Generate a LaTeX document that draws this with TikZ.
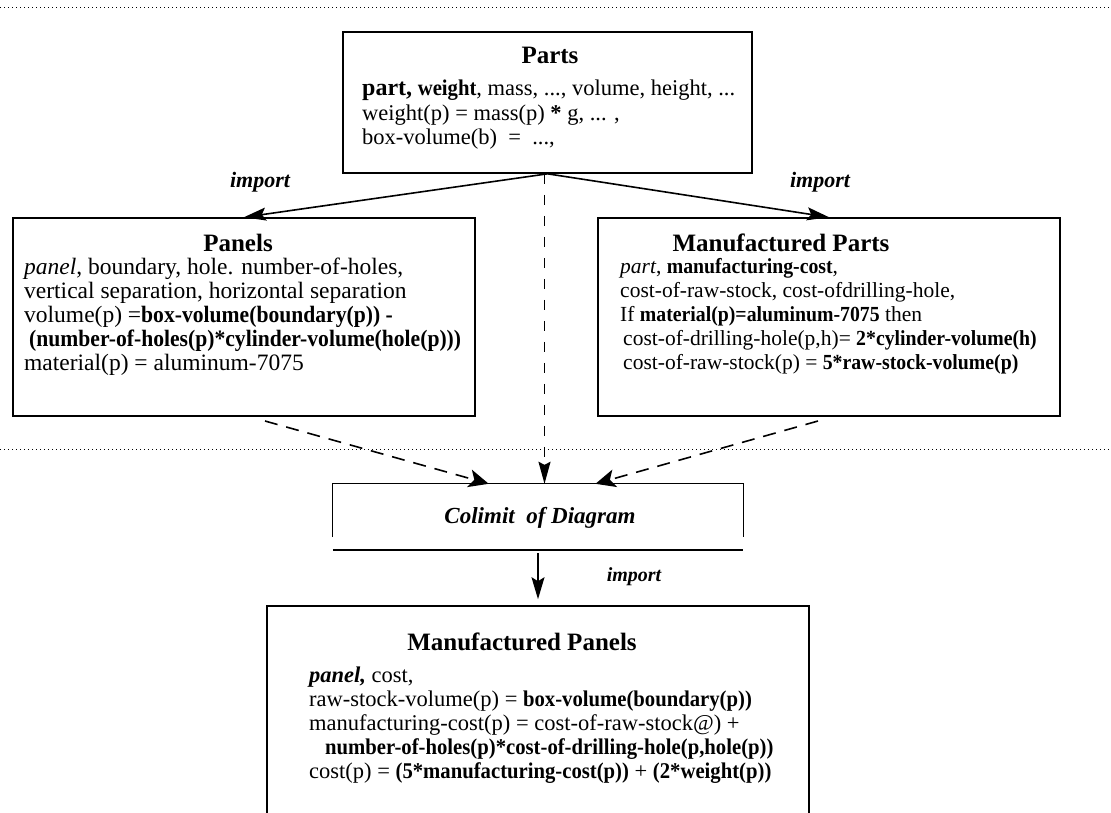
\documentclass[tikz,border=0pt]{standalone}
\usepackage{fontspec}
\setmainfont{Liberation Serif}
\usepackage{graphicx}
\usetikzlibrary{arrows.meta,calc}
\newcommand{\cb}[1]{\scalebox{0.92}[1]{\textbf{#1}}}
\begin{document}
\begin{tikzpicture}[x=1pt,y=-1pt,
  boxline/.style={draw, line width=1.6pt, inner sep=0pt},
  title/.style={font=\fontsize{25}{28}\selectfont\bfseries, inner sep=0pt},
  body/.style={align=left, anchor=north west, inner sep=0pt},
  lbl/.style={font=\fontsize{22}{24}\selectfont\bfseries\itshape, inner sep=0pt},
  imparrow/.style={line width=1.6pt, -{Stealth[length=22pt,width=13pt,inset=4pt]}},
  dasharrow/.style={line width=1.6pt, dash pattern=on 13pt off 9pt, -{Stealth[length=20pt,width=18pt,inset=5pt]}},
  vdash/.style={line width=1.5pt, dash pattern=on 10pt off 11pt, -{Stealth[length=22pt,width=12pt,inset=3pt]}},
  sepline/.style={line width=0.9pt, dash pattern=on 1pt off 3pt}]
\useasboundingbox (0,0) rectangle (1111,812);
% separators
\draw[sepline] (0,7) -- (1111,7);
\draw[sepline] (0,449) -- (1111,449);
% Parts
\node[boxline, minimum width=409pt, minimum height=141pt] (parts) at (547.5,102.5) {};
\node[title] (partsT) at (550,55) {Parts};
\node[body, font=\fontsize{22.5}{24.5}\selectfont] (partsB) at (362,80) {{\fontsize{24}{24}\selectfont\textbf{part,}} \cb{weight}, mass, ..., volume, height, ...\\
weight(p) = mass(p) \textbf{*} g, ... ,\\
box-volume(b)\ \ =\ \ ...,};
% Panels
\node[boxline, minimum width=462pt, minimum height=198pt] (panels) at (244,317) {};
\node[title] (panelsT) at (238,243) {Panels};
\node[body, font=\fontsize{23.5}{24}\selectfont] (panelsB) at (24,258) {\textit{panel}, boundary, hole. number-of-holes,\\
vertical separation, horizontal separation\\
volume(p) =\cb{box-volume(boundary(p)) -}\\
\hspace*{5pt}\cb{(number-of-holes(p)*cylinder-volume(hole(p)))}\\
material(p) = aluminum-7075};
% Manufactured Parts
\node[boxline, minimum width=462pt, minimum height=198pt] (mparts) at (829,317) {};
\node[title] (mpartsT) at (781,243) {Manufactured Parts};
\node[body, font=\fontsize{21.5}{24}\selectfont] (mpartsB) at (620,258) {\textit{part}, \cb{manufacturing-cost},\\
cost-of-raw-stock, cost-ofdrilling-hole,\\
If \cb{material(p)=aluminum-7075} then\\
\hspace*{3pt}cost-of-drilling-hole(p,h)= \cb{2*cylinder-volume(h)}\\
\hspace*{3pt}cost-of-raw-stock(p) = \cb{5*raw-stock-volume(p)}};
% Colimit
\node[inner sep=0pt, minimum width=410pt, minimum height=66pt] (colimit) at (538,517) {};
\draw[line width=0.8pt] ($(colimit.south west)+(0,-13)$) -- (colimit.north west) -- (colimit.north east) -- ($(colimit.south east)+(0,-13)$);
\draw[line width=1.8pt] (colimit.south west) -- (colimit.south east);
\node[font=\fontsize{23}{26}\selectfont\bfseries\itshape, inner sep=0pt] (colimitT) at (540,518) {Colimit\ \ of Diagram};
% Manufactured Panels
\begin{scope}
\clip (0,0) rectangle (1111,812);
\node[boxline, minimum width=542pt, minimum height=230pt] (mpanels) at (538,721) {};
\end{scope}
\node[title] (mpanelsT) at (522,642) {Manufactured Panels};
\node[body, font=\fontsize{22.5}{24}\selectfont] (mpanelsB) at (309,667) {\textbf{\textit{panel,}} cost,\\
raw-stock-volume(p) = \cb{box-volume(boundary(p))}\\
manufacturing-cost(p) = cost-of-raw-stock@) +\\
\hspace*{16pt}\cb{number-of-holes(p)*cost-of-drilling-hole(p,hole(p))}\\
cost(p) = \cb{(5*manufacturing-cost(p))} + \cb{(2*weight(p))}};
% labels
\node[lbl] (imp1) at (260,182) {import};
\node[lbl] (imp2) at (820,182) {import};
\node[lbl, font=\fontsize{20}{22}\selectfont\bfseries\itshape] (imp3) at (634,577) {import};
% arrows
\draw[imparrow] (parts.south) -- (panels.north);
\draw[imparrow] (parts.south) -- (mparts.north);
\draw[vdash] ($(parts.south)+(-3,0)$) -- ($(parts.south |- colimit.north)+(-3,0)$);
\coordinate (pl) at (265,421);
\coordinate (pr) at (818,421);
\draw[dasharrow] (pl) -- ($(colimit.north west)!0.38!(colimit.north east)$);
\draw[dasharrow] (pr) -- ($(colimit.north west)!0.64!(colimit.north east)$);
\draw[imparrow, shorten <=3pt, shorten >=6pt] (colimit.south) -- (mpanels.north);
\end{tikzpicture}
\end{document}
